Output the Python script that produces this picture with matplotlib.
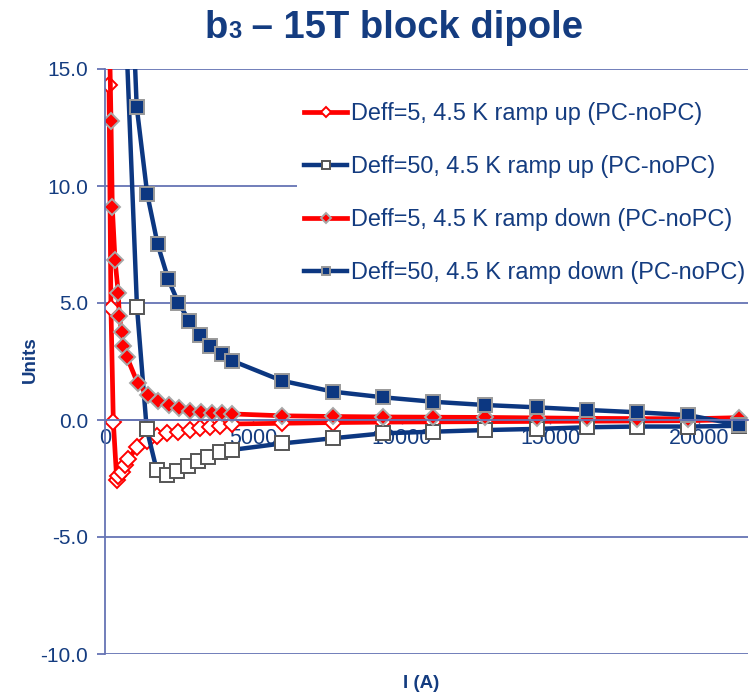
import matplotlib.pyplot as plt
from matplotlib.offsetbox import TextArea, HPacker, AnchoredOffsetbox

plt.rcParams['font.family'] = ['Liberation Sans', 'DejaVu Sans']

# current (A) and b3 (units)
I_5_up = [135, 200, 280, 395, 450, 560, 675, 785, 1070, 1400, 1740, 2080, 2470,
          2860, 3200, 3540, 3870, 4270, 5950, 7680, 9360, 11040, 12800, 14550,
          16230, 17910, 19630, 21350]
b3_5_up = [14.3, 4.8, -0.07, -2.56, -2.39, -2.21, -1.92, -1.68, -1.17, -0.88,
           -0.68, -0.54, -0.5, -0.43, -0.36, -0.29, -0.24, -0.17, -0.14, -0.11,
           -0.09, -0.08, -0.07, -0.06, -0.05, -0.04, -0.03, 0.02]

I_50_up = [350, 1077, 1404, 1741, 2077, 2434, 2785, 3141, 3478, 3872, 4266,
           5976, 7680, 9360, 11040, 12800, 14550, 16230, 17910, 19630, 21350]
b3_50_up = [28.0, 4.82, -0.38, -2.14, -2.35, -2.17, -1.97, -1.74, -1.57, -1.35,
            -1.28, -1.0, -0.78, -0.57, -0.5, -0.43, -0.38, -0.31, -0.28, -0.28,
            -0.25]

I_5_down = [100, 202, 246, 337, 448, 481, 562, 616, 731, 1101, 1438, 1795, 2155,
            2502, 2862, 3232, 3593, 3929, 4286, 5950, 7680, 9360, 11040, 12800,
            14550, 16230, 17910, 19630, 21350]
b3_5_down = [20.0, 12.78, 9.09, 6.84, 5.41, 4.44, 3.77, 3.16, 2.71, 1.57, 1.07,
             0.83, 0.64, 0.5, 0.4, 0.33, 0.29, 0.29, 0.26, 0.18, 0.15, 0.13,
             0.12, 0.11, 0.09, 0.07, 0.06, 0.05, 0.1]

I_50_down = [700, 1067, 1424, 1774, 2131, 2468, 2838, 3199, 3535, 3950, 4286,
             5950, 7680, 9360, 11040, 12800, 14550, 16230, 17910, 19630, 21350]
b3_50_down = [25.0, 13.39, 9.64, 7.5, 6.01, 5.01, 4.24, 3.63, 3.16, 2.82, 2.53,
              1.68, 1.21, 0.97, 0.78, 0.64, 0.54, 0.43, 0.33, 0.21, -0.21]

labels = ['Deff=5, 4.5 K ramp up (PC-noPC)',
          'Deff=50, 4.5 K ramp up (PC-noPC)',
          'Deff=5, 4.5 K ramp down (PC-noPC)',
          'Deff=50, 4.5 K ramp down (PC-noPC)']

red = '#FF0000'
navy = '#0C3781'
textc = '#143C80'
gridc = '#6674B4'

fig = plt.figure(figsize=(7.55, 6.95), dpi=100)
ax = fig.add_axes([105 / 755, 1 - 654 / 695, 643 / 755, 585 / 695])
ax.set_axisbelow(True)

ax.plot(I_5_up, b3_5_up, color=red, lw=3.4, marker='D', ms=8,
        mfc='white', mec=red, mew=1.4, label=labels[0])
ax.plot(I_50_up, b3_50_up, color=navy, lw=3.2, marker='s', ms=9.8,
        mfc='white', mec='#555555', mew=1.4, label=labels[1])
ax.plot(I_5_down, b3_5_down, color=red, lw=3.4, marker='D', ms=8.5,
        mfc=red, mec='#A8A8A8', mew=1.4, label=labels[2])
ax.plot(I_50_down, b3_50_down, color=navy, lw=3.2, marker='s', ms=10.2,
        mfc=navy, mec='#999999', mew=1.4, label=labels[3])

ax.set_xlim(0, 21650)
ax.set_ylim(-10, 15)
ax.set_yticks([-10, -5, 0, 5, 10, 15])
ax.set_yticklabels(['%.1f' % v for v in [-10, -5, 0, 5, 10, 15]])
ax.set_xticks([0, 5000, 10000, 15000, 20000])
ax.yaxis.grid(True, color=gridc, lw=1.3)

for s in ['top', 'right']:
    ax.spines[s].set_visible(False)
ax.spines['left'].set_color(gridc)
ax.spines['left'].set_linewidth(1.3)
ax.spines['bottom'].set_position(('data', 0))
ax.spines['bottom'].set_color(gridc)
ax.spines['bottom'].set_linewidth(1.3)

ax.tick_params(axis='y', colors=gridc, labelcolor=textc, labelsize=15,
               length=6, width=1.3, pad=6)
ax.tick_params(axis='x', colors=gridc, labelcolor=textc, labelsize=15.5,
               length=3, width=1.0, pad=3)

leg = ax.legend(loc='upper left',
                bbox_to_anchor=(297 / 755, 1 - 102 / 695, 453 / 755, 0.01),
                bbox_transform=fig.transFigure, mode='expand',
                prop={'size': 16.9},
                frameon=True, fancybox=False, facecolor='white',
                edgecolor='none', framealpha=1, labelspacing=1.28,
                handlelength=1.85, handletextpad=0.15, borderpad=0.3,
                borderaxespad=0, markerscale=0.6)
for t in leg.get_texts():
    t.set_color(textc)

fig.text(30 / 755, 1 - 360 / 695, 'Units', rotation=90, ha='center',
         va='center', fontsize=13.5, fontweight='bold', color=textc)
fig.text(421 / 755, 1 - 683 / 695, 'I (A)', ha='center', va='center',
         fontsize=13.5, fontweight='bold', color=textc)

# title with small "3" sitting on the baseline
tparts = [TextArea('b', textprops=dict(size=27.5, weight='bold', color=textc)),
          TextArea('3', textprops=dict(size=17, weight='bold', color=textc)),
          TextArea(' \u2013 15T block dipole',
                   textprops=dict(size=27.5, weight='bold', color=textc))]
box = HPacker(children=tparts, align='baseline', pad=0, sep=0)
anch = AnchoredOffsetbox(loc='center', child=box, frameon=False,
                         bbox_to_anchor=(394 / 755, 1 - 28 / 695),
                         bbox_transform=fig.transFigure, borderpad=0)
fig.add_artist(anch)

fig.savefig('out.png', dpi=100)
